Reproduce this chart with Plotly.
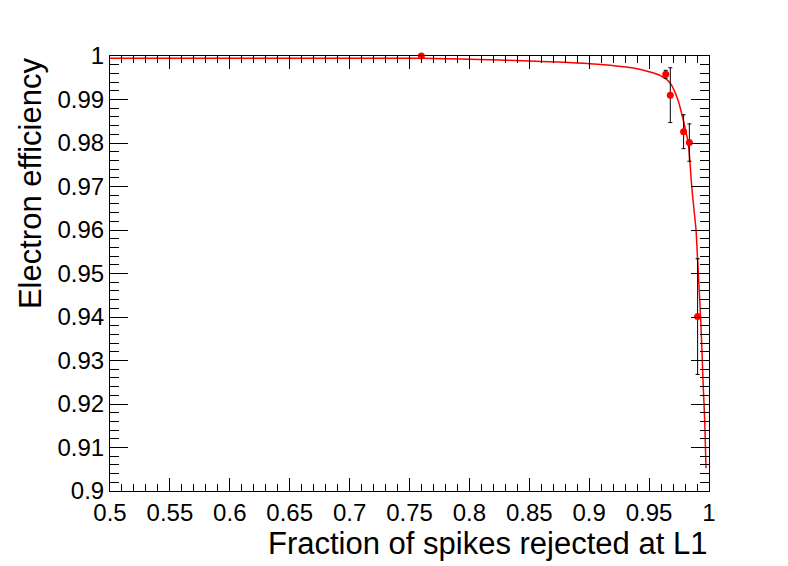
import plotly.graph_objects as go

# Measured points (red markers with black error bars)
pts_x = [0.7599, 0.9639, 0.9677, 0.9788, 0.9836, 0.9905]
pts_y = [1.0000, 0.9958, 0.9910, 0.9826, 0.9801, 0.9401]
pts_err = [0.0002, 0.0009, 0.0063, 0.0039, 0.0043, 0.0133]

# Fitted curve
curve_x = [0.5, 0.65, 0.76, 0.8255, 0.9007, 0.9368, 0.9508, 0.9591, 0.9674, 0.9741,
           0.9785, 0.9827, 0.9856, 0.9875, 0.9892, 0.9902, 0.9917, 0.9931, 0.9942,
           0.9952, 0.9964, 0.9975]
curve_y = [0.99950, 0.99948, 0.99947, 0.99908, 0.99823, 0.99724, 0.99632, 0.99556,
           0.99386, 0.98989, 0.98529, 0.97993, 0.96995, 0.96460, 0.96000, 0.95471,
           0.94697, 0.93931, 0.93172, 0.92398, 0.91632, 0.90522]

x_title = "Fraction of spikes rejected at L1"
y_title = "Electron efficiency"

FONT = "Liberation Sans, Arial, Helvetica, sans-serif"

fig = go.Figure()
fig.add_trace(go.Scatter(
    x=curve_x, y=curve_y, mode="lines",
    line=dict(color="#ff0000", width=1.5, shape="spline", smoothing=0.6),
    hoverinfo="skip", showlegend=False,
))
fig.add_trace(go.Scatter(
    x=pts_x, y=pts_y, mode="markers",
    marker=dict(color="#ff0000", size=7, line=dict(width=0)),
    error_y=dict(type="data", array=pts_err, visible=True,
                 color="black", thickness=1, width=2),
    cliponaxis=False, showlegend=False,
))

axis_common = dict(
    showgrid=False, zeroline=False,
    showline=True, linecolor="black", linewidth=1,
    mirror="allticks", ticks="inside", tickcolor="black", tickwidth=1,
    tickfont=dict(family=FONT, size=24, color="black"),
)

fig.update_layout(
    width=788, height=566, autosize=False,
    margin=dict(l=110, r=79, t=56, b=75),
    paper_bgcolor="white", plot_bgcolor="white",
    font=dict(family=FONT, color="black"),
    xaxis=dict(range=[0.5, 1.0], dtick=0.05, tick0=0.5, ticklen=13,
               minor=dict(dtick=0.01, ticklen=7, ticks="inside",
                          tickcolor="black", tickwidth=1),
               **axis_common),
    yaxis=dict(range=[0.9, 1.0], dtick=0.01, tick0=0.9, ticklen=18,
               minor=dict(dtick=0.002, ticklen=9, ticks="inside",
                          tickcolor="black", tickwidth=1),
               **axis_common),
    annotations=[
        dict(text=x_title, xref="paper", yref="paper", x=1.0, y=-0.075,
             xanchor="right", yanchor="top", showarrow=False,
             font=dict(family=FONT, size=31, color="black")),
        dict(text=y_title, xref="paper", yref="paper", x=-0.1, y=1.0,
             xanchor="right", yanchor="top", textangle=-90, showarrow=False,
             font=dict(family=FONT, size=31, color="black")),
    ],
)

fig.write_html("out.html", config={"displayModeBar": False},
               post_script="document.body.style.margin='0px';document.body.style.overflow='hidden';")
